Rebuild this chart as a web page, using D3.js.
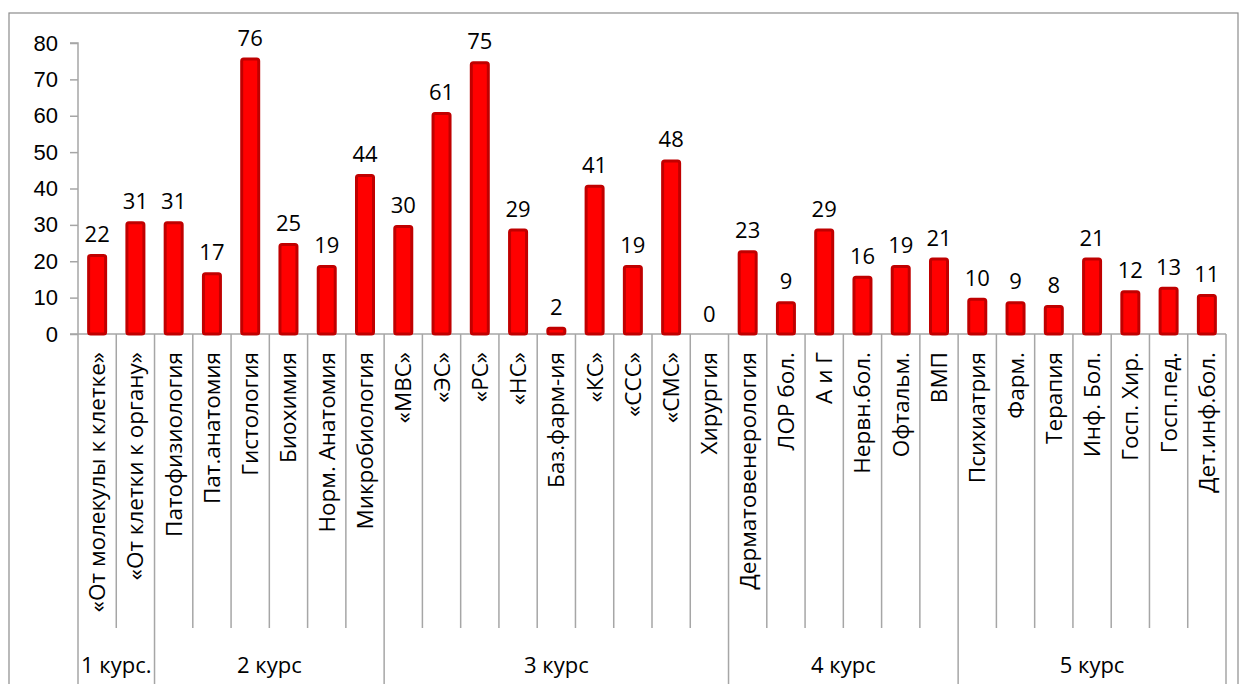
<!DOCTYPE html>
<html><head><meta charset="utf-8">
<script src="https://cdn.jsdelivr.net/npm/d3@7"></script>
<style>
body{margin:0;background:#fff;}
svg{display:block;font-family:"Open Sans","Noto Sans",sans-serif;}
</style></head>
<body><svg id="c" width="1245" height="684"></svg>
<script>
const categories = ["«От молекулы к клетке»","«От клетки к органу»","Патофизиология","Пат.анатомия","Гистология","Биохимия","Норм. Анатомия","Микробиология","«МВС»","«ЭС»","«РС»","«НС»","Баз.фарм-ия","«КС»","«ССС»","«СМС»","Хирургия","Дерматовенерология","ЛОР бол.","А и Г","Нервн.бол.","Офтальм.","ВМП","Психиатрия","Фарм.","Терапия","Инф. Бол.","Госп. Хир.","Госп.пед.","Дет.инф.бол."];
const values = [22,31,31,17,76,25,19,44,30,61,75,29,2,41,19,48,0,23,9,29,16,19,21,10,9,8,21,12,13,11];
const groupNames = ["1 курс.","2 курс","3 курс","4 курс","5 курс"];
const groupSizes = [2,6,9,6,7];
const yTicks = [0,10,20,30,40,50,60,70,80];

const svg = d3.select("#c");
const x0 = 78, x1 = 1226, yBase = 334, yTop = 43;
const x = d3.scaleBand().domain(d3.range(categories.length)).range([x0,x1]).paddingInner(0).paddingOuter(0);
const y = d3.scaleLinear().domain([0,80]).range([yBase,yTop]);

// outer frame
svg.append("rect").attr("x",9).attr("y",13).attr("width",1229).attr("height",690)
  .attr("fill","none").attr("stroke","#8c8c8c").attr("stroke-width",1.2);

// y axis
const ya = svg.append("g").attr("transform",`translate(${x0},0)`)
  .call(d3.axisLeft(y).tickValues(yTicks).tickSize(8).tickPadding(12));
ya.select(".domain").attr("stroke","#a6a6a6").attr("stroke-width",1.5).attr("d",`M-8,${yTop}H0V${yBase}`);
ya.selectAll(".tick line").attr("stroke","#a6a6a6").attr("stroke-width",1.5);
ya.selectAll(".tick text").attr("font-size",22).attr("fill","#000").attr("font-family",null);

// x axis baseline
svg.append("line").attr("x1",x0-8).attr("x2",x1).attr("y1",yBase).attr("y2",yBase)
  .attr("stroke","#a6a6a6").attr("stroke-width",1.5);

// category separators
let acc = 0; const groupStarts = [0];
groupSizes.forEach(s=>{acc+=s; groupStarts.push(acc);});
for(let i=0;i<=categories.length;i++){
  const xx = i<categories.length ? x(i) : x1;
  const isGroup = groupStarts.includes(i);
  svg.append("line").attr("x1",xx).attr("x2",xx).attr("y1",yBase).attr("y2",isGroup?684:628)
    .attr("stroke","#a6a6a6").attr("stroke-width",1.5);
}

// category labels
svg.append("g").selectAll("text").data(categories).join("text")
  .attr("transform",(d,i)=>`translate(${x(i)+x.bandwidth()/2+8},352) rotate(-90)`)
  .attr("text-anchor","end").attr("font-size",22.5).attr("fill","#000").text(d=>d);

// group labels
svg.append("g").selectAll("text").data(groupNames).join("text")
  .attr("x",(d,i)=>{const a=groupStarts[i], b=groupStarts[i+1]; return ((a<categories.length?x(a):x1)+(b<categories.length?x(b):x1))/2;})
  .attr("y",673).attr("text-anchor","middle").attr("font-size",22).attr("fill","#000").text(d=>d);

// bars
const bw = 20;
svg.append("g").selectAll("rect").data(values).join("rect")
  .attr("x",(d,i)=>x(i)+x.bandwidth()/2-bw/2+1.5)
  .attr("y",d=>y(d)+1.5)
  .attr("width",bw-3)
  .attr("height",d=>Math.max(0,yBase-y(d)-1.5))
  .attr("rx",2)
  .attr("fill","#ff0000").attr("stroke",d=>d>0?"#c00000":"none").attr("stroke-width",3);

// value labels
svg.append("g").selectAll("text").data(values).join("text")
  .attr("x",(d,i)=>x(i)+x.bandwidth()/2)
  .attr("y",d=>y(d)-12)
  .attr("text-anchor","middle").attr("font-size",22).attr("fill","#000").text(d=>d);
</script></body></html>
